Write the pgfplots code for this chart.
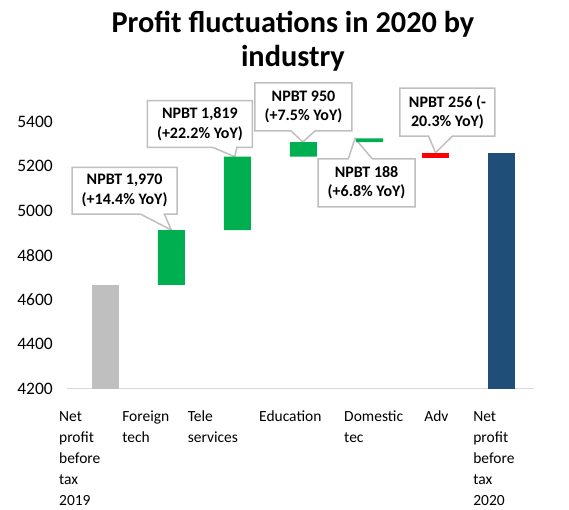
\documentclass[border=0pt]{standalone}
\usepackage{fontspec}
\setmainfont{Carlito}
\usepackage{pgfplots}
\usepackage{pgfplotstable}
\pgfplotsset{compat=1.18}
\usetikzlibrary{shapes.callouts}
\definecolor{bgray}{HTML}{BFBFBF}
\definecolor{bgreen}{HTML}{00B050}
\definecolor{bred}{HTML}{FF0000}
\definecolor{bblue}{HTML}{1F4E79}
\definecolor{axgray}{HTML}{D9D9D9}
\definecolor{cgray}{HTML}{BFBFBF}
\pgfplotstableread{
x base gray green red blue
0 0    4666 0   0  0
1 4666 0    247 0  0
2 4913 0    330 0  0
3 5243 0    66  0  0
4 5309 0    16  0  0
5 5239 0    0   22 0
6 0    0    0   0  5260
}\wf
\tikzset{cbox/.style={rectangle callout, draw=cgray, line width=1.5pt, fill=white,
  align=center, inner sep=0pt, font=\fontsize{16}{19.5}\selectfont\bfseries,
  callout pointer width=24pt}}
\begin{document}
\begin{tikzpicture}
\begin{axis}[
  scale only axis, width=467pt, height=266.67pt,
  xmin=-0.58, xmax=6.49, ymin=4200, ymax=5400,
  ybar stacked, bar width=27pt,
  clip mode=individual,
  ytick={4200,4400,...,5400},
  xtick={0,...,6},
  xticklabels={
    {\kern-52.5pt\begin{tabular}[t]{@{}l@{}}Net\\profit\\before\\tax\\2019\end{tabular}},
    {\kern-52.5pt\begin{tabular}[t]{@{}l@{}}Foreign\\tech\end{tabular}},
    {\kern-50.5pt\begin{tabular}[t]{@{}l@{}}Tele\\services\end{tabular}},
    {\kern-44.5pt\begin{tabular}[t]{@{}l@{}}Education\end{tabular}},
    {\kern-25.5pt\begin{tabular}[t]{@{}l@{}}Domestic\\tec\end{tabular}},
    {\kern-11.5pt\begin{tabular}[t]{@{}l@{}}Adv\end{tabular}},
    {\kern-28.5pt\begin{tabular}[t]{@{}l@{}}Net\\profit\\before\\tax\\2020\end{tabular}}
  },
  axis x line*=bottom, axis y line*=left,
  x axis line style={draw=axgray, line width=1.3pt},
  y axis line style={draw=none},
  major tick length=0pt,
  yticklabel style={font=\fontsize{17.5}{21}\selectfont, inner sep=0pt, anchor=east, xshift=-14pt},
  xticklabel style={font=\fontsize{15.5}{21.2}\selectfont, inner sep=0pt, anchor=north west, yshift=-17.5pt},
  /pgf/number format/assume math mode=true,
  /pgf/number format/1000 sep={},
  scaled y ticks=false,
]
\addplot[draw=none, fill=none] table[x=x, y=base] {\wf};
\addplot[draw=none, fill=bgray] table[x=x, y=gray] {\wf};
\addplot[draw=none, fill=bgreen] table[x=x, y=green] {\wf};
\addplot[draw=none, fill=bred] table[x=x, y=red] {\wf};
\addplot[draw=none, fill=bblue] table[x=x, y=blue] {\wf};

\node[cbox, minimum width=105pt, minimum height=46.7pt, callout absolute pointer={(axis cs:1,4913)}] at (axis cs:0.292,5090) {NPBT 1,970\\(+14.4\% YoY)};
\node[cbox, minimum width=105pt, minimum height=46.7pt, callout absolute pointer={(axis cs:1.96,5243)}] at (axis cs:1.432,5390) {NPBT 1,819\\(+22.2\% YoY)};
\node[cbox, minimum width=97pt, minimum height=48pt, callout absolute pointer={(axis cs:2.99,5309)}] at (axis cs:3.0,5467) {NPBT 950\\(+7.5\% YoY)};
\node[cbox, minimum width=97pt, minimum height=48pt, callout absolute pointer={(axis cs:3.78,5325)}] at (axis cs:3.955,5125) {NPBT 188\\(+6.8\% YoY)};
\node[cbox, minimum width=95pt, minimum height=48pt, callout absolute pointer={(axis cs:5.0,5261)}] at (axis cs:5.18,5444) {NPBT 256 (-\\20.3\% YoY)};

\node[anchor=north, align=center, inner sep=0pt, yshift=110.5pt,
  font=\fontsize{30.3}{34}\selectfont\bfseries] at (axis cs:2.84,5400)
  {Profit fluctuations in 2020 by\\industry};
\end{axis}
\pgfresetboundingbox
\path[use as bounding box] (-67pt,-121.5pt) rectangle (502pt,388.5pt);
\end{tikzpicture}
\end{document}
